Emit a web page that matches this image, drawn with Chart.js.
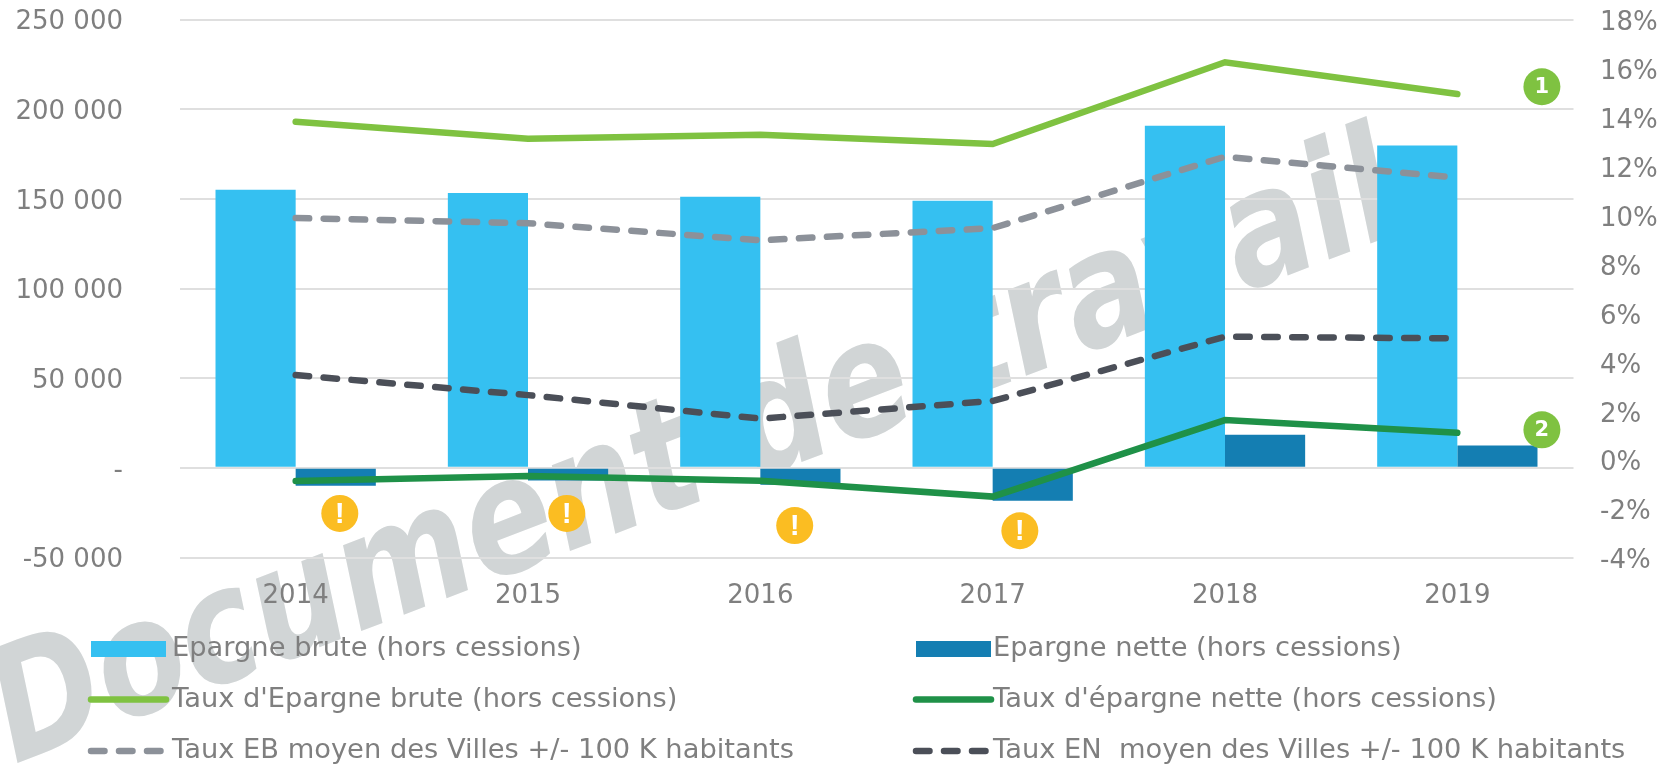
<!DOCTYPE html>
<html><head><meta charset="utf-8">
<script src="https://cdn.jsdelivr.net/npm/chart.js@4"></script>
<style>html,body{margin:0;padding:0;background:#fff}canvas{display:block}</style>
</head><body><canvas id="c" width="1675" height="765"></canvas>
<script>
const years = ['2014','2015','2016','2017','2018','2019'];
const epargneBrute = [155000,153200,151100,149000,190700,179800];
const epargneNette = [-10000,-7000,-9500,-18400,18400,12400];
const tauxBrute = [13.82,13.12,13.29,12.91,16.25,14.95];
const tauxNette = [-0.87,-0.67,-0.86,-1.51,1.62,1.10];
const tauxEBVilles = [9.88,9.67,8.97,9.47,12.39,11.53];
const tauxENVilles = [3.46,2.64,1.68,2.40,5.03,4.96];
const warnMarks = [[0.19,-25400],[1.167,-25400],[2.148,-32200],[3.117,-35100]];
const noteMarks = [[5.364,212500,'1'],[5.364,21200,'2']];
const FONT = 'DejaVu Sans';
const GREY = '#7f7f7f';

const background = {id:'background',beforeDraw(ch){
  const c=ch.ctx;c.save();
  c.translate(15,764);c.rotate(-21*Math.PI/180);c.scale(1,1.22);
  c.font='italic bold 130px "'+FONT+'"';c.fillStyle='#d1d5d6';c.textBaseline='alphabetic';
  c.fillText('Document de travail',0,0);c.restore();
}};
const marks = {id:'marks',afterDatasetsDraw(ch){
  const c=ch.ctx,x=ch.scales.x,y=ch.scales.y;
  const dot=(m,col,txt,font)=>{
    const px=x.getPixelForValue(m[0]),py=y.getPixelForValue(m[1]);
    c.save();c.fillStyle=col;c.beginPath();c.arc(px,py,18.5,0,Math.PI*2);c.fill();
    c.fillStyle='#fff';c.font=font;c.textAlign='center';c.textBaseline='middle';
    c.fillText(txt,px,py+1);c.restore();
  };
  warnMarks.forEach(m=>dot(m,'#fbbd22','!','bold 30px "Liberation Sans"'));
  noteMarks.forEach(m=>dot(m,'#7fc241',m[2],'bold 21px "'+FONT+'"'));
}};
const legendCols=[91,916], legendTextX=[172,993], legendRows=[649,699.5,751];
const legendPlugin = {id:'legendPlugin',afterDraw(ch){
  const c=ch.ctx;
  ch.data.datasets.forEach((d,i)=>{
    const col=i%2,row=Math.floor(i/2),yy=legendRows[row],x0=legendCols[col];
    c.save();
    if(d.type==='bar'){c.fillStyle=d.backgroundColor;c.fillRect(x0,yy-8,75,16);}
    else{c.strokeStyle=d.borderColor;c.lineWidth=d.borderWidth;c.lineCap='round';
      c.setLineDash(d.borderDash||[]);c.beginPath();c.moveTo(x0,yy);c.lineTo(x0+75,yy);c.stroke();}
    c.restore();
    c.save();c.fillStyle=GREY;c.font='27.3px "'+FONT+'"';c.textBaseline='middle';
    c.fillText(d.label,legendTextX[col],yy);c.restore();
  });
}};
const noPad=s=>{s.paddingTop=0;s.paddingBottom=0;};
new Chart(document.getElementById('c'),{
  data:{labels:years,datasets:[
    {type:'bar',label:'Epargne brute (hors cessions)',data:epargneBrute,backgroundColor:'#35c0f1',yAxisID:'y',order:10,categoryPercentage:0.69,barPercentage:1},
    {type:'bar',label:'Epargne nette (hors cessions)',data:epargneNette,backgroundColor:'#147eb2',yAxisID:'y',order:10,categoryPercentage:0.69,barPercentage:1},
    {type:'line',label:"Taux d'Epargne brute (hors cessions)",data:tauxBrute,borderColor:'#7fc241',borderWidth:6.5,yAxisID:'y2',order:1,pointRadius:0,tension:0,borderCapStyle:'round'},
    {type:'line',label:"Taux d'épargne nette (hors cessions)",data:tauxNette,borderColor:'#1f9148',borderWidth:6.5,yAxisID:'y2',order:1,pointRadius:0,tension:0,borderCapStyle:'round'},
    {type:'line',label:'Taux EB moyen des Villes +/- 100 K habitants',data:tauxEBVilles,borderColor:'#8c9199',borderWidth:6.5,borderDash:[13.5,14.5],yAxisID:'y2',order:2,pointRadius:0,tension:0,borderCapStyle:'round'},
    {type:'line',label:'Taux EN  moyen des Villes +/- 100 K habitants',data:tauxENVilles,borderColor:'#4b4f58',borderWidth:6.5,borderDash:[13.5,14.5],yAxisID:'y2',order:2,pointRadius:0,tension:0,borderCapStyle:'round'}
  ]},
  options:{responsive:false,animation:false,
    layout:{padding:{top:19.5,left:0,right:0,bottom:0}},
    plugins:{legend:{display:false},tooltip:{enabled:false}},
    scales:{
      x:{grid:{display:false},border:{display:false},
        ticks:{color:GREY,font:{family:FONT,size:26},padding:15,maxRotation:0},
        afterFit(s){s.height=765-557.5;s.paddingLeft=0;s.paddingRight=0;}},
      y:{position:'left',min:-50000,max:250000,
        grid:{color:'#dfdfdf',lineWidth:2,drawTicks:false},border:{display:false},
        ticks:{stepSize:50000,color:GREY,font:{family:FONT,size:26},padding:56.5,labelOffset:3,
          callback:v=>v===0?'-':String(v).replace(/\B(?=(\d{3})+$)/g,' ')},
        afterFit(s){s.width=179.5;noPad(s);}},
      y2:{position:'right',min:-4,max:18,
        grid:{display:false},border:{display:false},
        ticks:{stepSize:2,color:GREY,font:{family:FONT,size:26},padding:18.5,labelOffset:4,callback:v=>v+'%'},
        afterFit(s){s.width=101.5;noPad(s);}}
    }
  },
  plugins:[background,marks,legendPlugin]
});
</script></body></html>
